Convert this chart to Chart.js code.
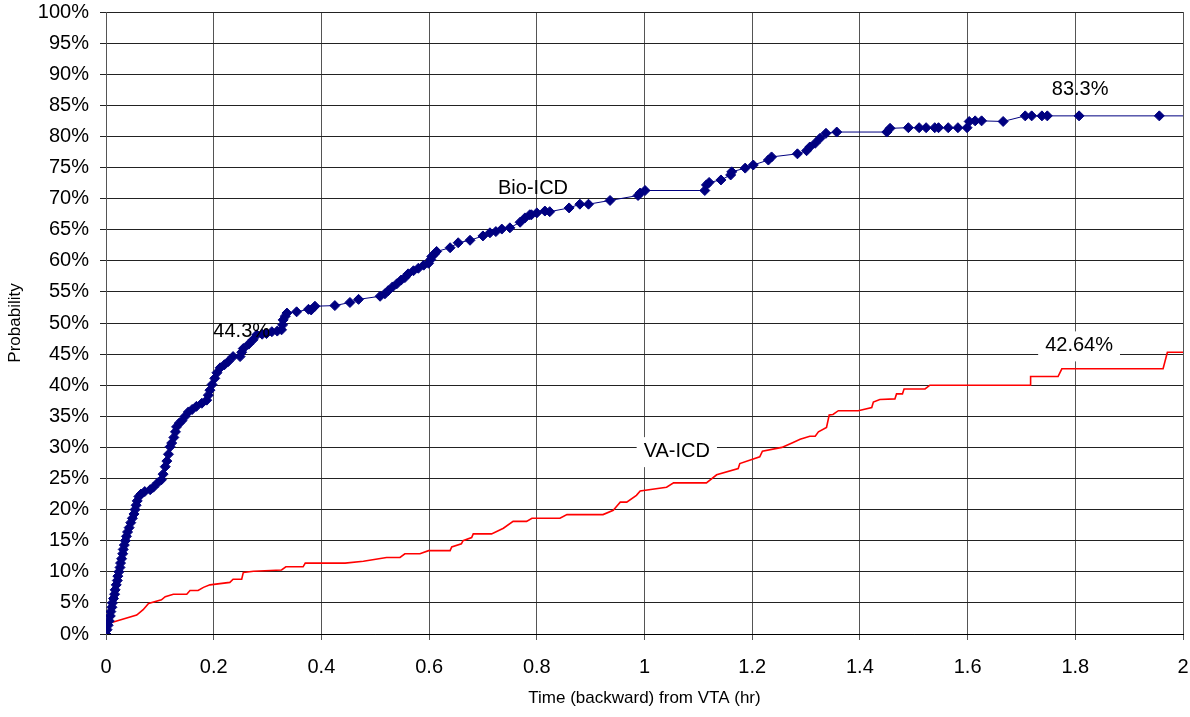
<!DOCTYPE html>
<html>
<head>
<meta charset="utf-8">
<title>Probability before VTA</title>
<script src="https://cdn.jsdelivr.net/npm/chart.js@4.4.0/dist/chart.umd.min.js"></script>
<style>
  html, body { margin: 0; padding: 0; background: #fff; }
  #chart { display: block; }
</style>
</head>
<body>
<canvas id="chart" width="1190" height="717"></canvas>
<script>
// Bio-ICD (markers) - time in hours, probability in %
const bioX = [
  0.000, 0.002, 0.004, 0.006, 0.008, 0.009, 0.011, 0.012, 0.014, 0.016,
  0.017, 0.019, 0.021, 0.022, 0.024, 0.026, 0.027, 0.029, 0.031, 0.032,
  0.034, 0.036, 0.038, 0.040, 0.043, 0.046, 0.049, 0.052, 0.054, 0.056,
  0.058, 0.061, 0.065, 0.072, 0.082, 0.088, 0.096, 0.103, 0.106, 0.110,
  0.113, 0.116, 0.119, 0.122, 0.126, 0.129, 0.131, 0.136, 0.141, 0.147,
  0.153, 0.160, 0.168, 0.178, 0.187, 0.190, 0.193, 0.197, 0.202, 0.206,
  0.212, 0.220, 0.227, 0.236, 0.249, 0.252, 0.255, 0.265, 0.273, 0.280,
  0.290, 0.298, 0.308, 0.318, 0.326, 0.328, 0.329, 0.333, 0.336, 0.354,
  0.376, 0.381, 0.388, 0.425, 0.453, 0.469, 0.509, 0.518, 0.524, 0.532,
  0.540, 0.548, 0.555, 0.561, 0.571, 0.580, 0.590, 0.599, 0.603, 0.605,
  0.610, 0.614, 0.639, 0.654, 0.676, 0.700, 0.713, 0.724, 0.735, 0.750,
  0.769, 0.778, 0.787, 0.790, 0.800, 0.815, 0.824, 0.860, 0.880, 0.896,
  0.936, 0.988, 0.992, 1.001, 1.112, 1.115, 1.120, 1.142, 1.160, 1.162,
  1.187, 1.202, 1.230, 1.236, 1.284, 1.301, 1.307, 1.317, 1.326, 1.337,
  1.357, 1.450, 1.456, 1.490, 1.510, 1.523, 1.539, 1.546, 1.564, 1.582,
  1.599, 1.603, 1.614, 1.626, 1.666, 1.707, 1.719, 1.738, 1.748, 1.807,
  1.956, 2.050
];
const bioY = [
  0.0, 0.7, 1.4, 2.1, 2.9, 3.6, 4.3, 5.0, 5.7, 6.4,
  7.1, 7.9, 8.6, 9.3, 10.0, 10.7, 11.4, 12.1, 12.9, 13.6,
  14.3, 15.0, 15.7, 16.4, 17.1, 17.9, 18.6, 19.3, 20.0, 20.7,
  21.4, 22.1, 22.5, 22.9, 23.2, 23.6, 24.3, 24.8, 25.7, 26.9,
  27.8, 28.9, 30.1, 30.7, 31.6, 32.5, 33.3, 33.9, 34.3, 35.0,
  35.7, 36.1, 36.6, 37.1, 37.6, 38.4, 39.2, 40.1, 41.1, 42.0,
  42.8, 43.3, 43.8, 44.6, 44.6, 45.3, 45.9, 46.6, 47.3, 48.1,
  48.2, 48.3, 48.6, 48.7, 48.9, 49.7, 50.5, 51.1, 51.6, 51.8,
  52.2, 52.1, 52.7, 52.8, 53.3, 53.8, 54.3, 54.7, 55.2, 55.8,
  56.3, 56.9, 57.3, 57.9, 58.4, 58.8, 59.3, 59.6, 60.2, 60.7,
  61.1, 61.5, 62.1, 62.9, 63.3, 64.0, 64.5, 64.7, 65.1, 65.3,
  66.2, 66.9, 67.4, 67.4, 67.7, 68.0, 67.9, 68.5, 69.1, 69.1,
  69.7, 70.5, 70.9, 71.3, 71.3, 72.2, 72.6, 73.0, 73.8, 74.3,
  74.9, 75.4, 76.2, 76.7, 77.2, 77.7, 78.3, 78.9, 79.7, 80.5,
  80.7, 80.7, 81.3, 81.4, 81.4, 81.4, 81.4, 81.4, 81.4, 81.4,
  81.4, 82.4, 82.5, 82.5, 82.4, 83.3, 83.3, 83.3, 83.3, 83.3,
  83.3, 83.3
];

// VA-ICD (red line)
const vaX = [
  0.012, 0.057, 0.069, 0.079, 0.103, 0.110, 0.125, 0.150, 0.156, 0.171,
  0.181, 0.193, 0.230, 0.236, 0.252, 0.255, 0.274, 0.326, 0.334, 0.366,
  0.370, 0.444, 0.478, 0.521, 0.546, 0.555, 0.583, 0.599, 0.639, 0.642,
  0.660, 0.663, 0.679, 0.682, 0.716, 0.738, 0.756, 0.781, 0.791, 0.843,
  0.856, 0.923, 0.942, 0.948, 0.955, 0.967, 0.985, 0.992, 1.041, 1.054,
  1.115, 1.134, 1.174, 1.177, 1.214, 1.219, 1.255, 1.276, 1.289, 1.307,
  1.317, 1.323, 1.338, 1.343, 1.350, 1.360, 1.397, 1.422, 1.425, 1.437,
  1.465, 1.468, 1.479, 1.482, 1.521, 1.530, 1.716, 1.717, 1.768, 1.775,
  1.963, 1.971, 2.050
];
const vaY = [
  1.9, 3.05, 3.9, 4.9, 5.5, 6.0, 6.4, 6.4, 7.0, 7.0,
  7.5, 7.9, 8.3, 8.8, 8.8, 9.9, 10.1, 10.3, 10.8, 10.8,
  11.4, 11.4, 11.7, 12.3, 12.3, 12.9, 12.9, 13.4, 13.4, 14.0,
  14.5, 15.0, 15.5, 16.1, 16.1, 17.0, 18.1, 18.1, 18.6, 18.6,
  19.2, 19.2, 19.9, 20.5, 21.2, 21.2, 22.3, 23.0, 23.6, 24.3,
  24.3, 25.6, 26.6, 27.4, 28.5, 29.4, 30.0, 30.8, 31.3, 31.8,
  31.8, 32.5, 33.2, 35.2, 35.3, 35.9, 35.9, 36.4, 37.3, 37.7,
  37.8, 38.6, 38.6, 39.4, 39.4, 40.0, 40.0, 41.4, 41.4, 42.64,
  42.64, 45.3, 45.3
];

// text notes on the plot (anchored in data units)
const noteText  = ['44.3%', 'Bio-ICD', '83.3%', 'VA-ICD', '42.64%'];
const noteX     = [0.252, 0.793, 1.809, 1.060, 1.807];
const noteY     = [48.6, 71.7, 87.6, 29.4, 46.4];
const noteBoxed = [false, false, false, true, true];

const FONT = '"Liberation Sans", Arial, sans-serif';
Chart.defaults.font.family = FONT;
Chart.defaults.color = '#000';

const toPoints = (xs, ys) => xs.map((x, i) => ({ x: x, y: ys[i] }));

// plot notes, white box behind some of them
const notesPlugin = {
  id: 'notes',
  afterDatasetsDraw(chart) {
    const ctx = chart.ctx;
    const xs = chart.scales.x, ys = chart.scales.y;
    ctx.save();
    ctx.font = '20px ' + FONT;
    ctx.textAlign = 'center';
    ctx.textBaseline = 'middle';
    noteText.forEach((t, i) => {
      const px = xs.getPixelForValue(noteX[i]);
      const py = ys.getPixelForValue(noteY[i]);
      if (noteBoxed[i]) {
        const w = ctx.measureText(t).width + 14;
        ctx.fillStyle = '#fff';
        ctx.fillRect(px - w / 2, py - 14, w, 30);
      }
      ctx.fillStyle = '#000';
      ctx.fillText(t, px, py);
    });
    ctx.restore();
  }
};

new Chart(document.getElementById('chart'), {
  type: 'scatter',
  data: {
    datasets: [
      {
        label: 'Bio-ICD',
        data: toPoints(bioX, bioY),
        showLine: true,
        borderColor: '#000080',
        borderWidth: 1,
        pointStyle: 'rectRot',
        pointRadius: 5,
        pointBackgroundColor: '#000080',
        pointBorderColor: '#000080',
        pointBorderWidth: 1
      },
      {
        label: 'VA-ICD',
        data: toPoints(vaX, vaY),
        showLine: true,
        borderColor: '#ff0000',
        borderWidth: 1.6,
        pointRadius: 0
      }
    ]
  },
  options: {
    responsive: false,
    animation: false,
    devicePixelRatio: 1,
    layout: { padding: { top: 12, right: 7, left: 0, bottom: 0 } },
    plugins: {
      legend: { display: false },
      tooltip: { enabled: false }
    },
    scales: {
      x: {
        type: 'linear',
        min: 0, max: 2,
        ticks: {
          stepSize: 0.2,
          padding: 15,
          maxRotation: 0,
          autoSkip: false,
          font: { size: 20 },
          color: '#000',
          callback: v => String(Math.round(v * 10) / 10)
        },
        grid: { color: '#555', tickLength: 6 },
        border: { color: '#000' },
        title: {
          display: true,
          text: 'Time (backward) from VTA (hr)',
          font: { size: 17 },
          color: '#000',
          padding: { top: 0, bottom: 8 }
        },
        afterFit: s => {
          s.height = 83;
          s.paddingLeft = 0;
          s.paddingRight = 0;
        }
      },
      y: {
        type: 'linear',
        min: 0, max: 100,
        ticks: {
          stepSize: 5,
          padding: 11,
          autoSkip: false,
          font: { size: 20 },
          color: '#000',
          callback: v => v + '%'
        },
        grid: { color: '#222', tickLength: 6 },
        border: { color: '#555' },
        title: {
          display: true,
          text: 'Probability',
          font: { size: 17 },
          color: '#000',
          padding: { top: 5, bottom: 0 }
        },
        afterFit: s => {
          s.width = 106;
          s.paddingTop = 0;
          s.paddingBottom = 0;
        }
      }
    }
  },
  plugins: [notesPlugin]
});
</script>
</body>
</html>
